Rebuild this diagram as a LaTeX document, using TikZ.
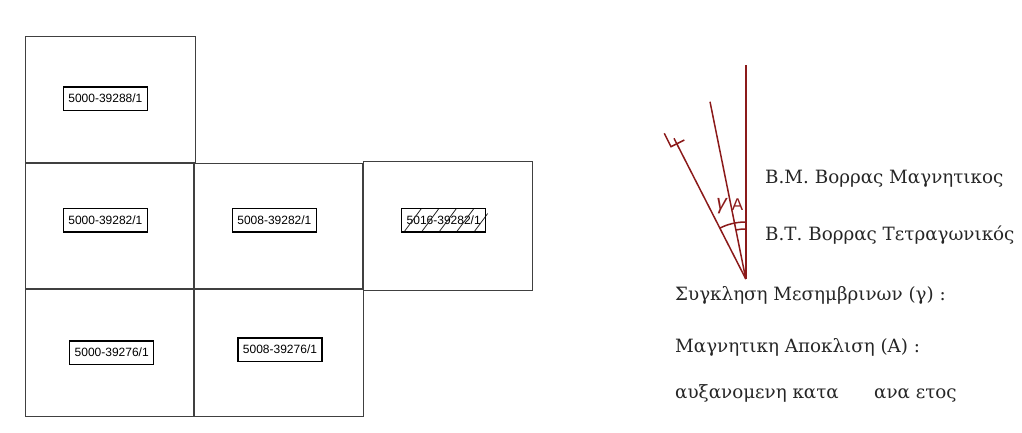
\documentclass[tikz,border=0pt]{standalone}
\usepackage{fontspec}
\setmainfont{DejaVu Serif}
\newfontfamily\labelfont{Liberation Sans}
\definecolor{compassred}{HTML}{8B1A1A}
\begin{document}
\begin{tikzpicture}[x=1pt,y=-1pt,
  cell/.style={draw=black!75,line width=0.95pt,inner sep=0pt,outer sep=0pt,anchor=north west},
  sheet/.style={draw=black,line width=1.5pt,fill=white,inner sep=0pt,outer sep=0pt,minimum width=84pt,minimum height=23.5pt,font=\labelfont\fontsize{12pt}{14pt}\selectfont},
  legend/.style={anchor=base west,inner sep=0pt,text=black!85,font=\fontsize{18.3pt}{20pt}\selectfont},
  north line/.style={draw=compassred,line width=2.1pt},
  thin north/.style={draw=compassred,line width=1.5pt}]
\useasboundingbox (0,0) rectangle (1022,432);
% map grid
\node[cell,minimum width=170pt,minimum height=126pt] (c1) at (25,36) {};
\node[cell,minimum width=168.5pt,minimum height=125.2pt] (c2) at (25,163.3) {};
\node[cell,minimum width=167.8pt,minimum height=125.2pt] (c3) at (194.7,163.3) {};
\node[cell,minimum width=169pt,minimum height=128.5pt] (c4) at (363.3,161.7) {};
\node[cell,minimum width=168.5pt,minimum height=126.2pt] (c5) at (25,289.9) {};
\node[cell,minimum width=168.3pt,minimum height=127pt] (c6) at (194.7,289.2) {};
% sheet labels
\node[sheet] (s1) at (105.4,98.5) {5000-39288/1};
\node[sheet] (s2) at (105.4,220) {5000-39282/1};
\node[sheet] (s3) at (274.4,220) {5008-39282/1};
\node[sheet,fill=none] (s4) at (443.7,220) {5016-39282/1};
\begin{scope}
\clip (s4.south west) rectangle ([xshift=2pt]s4.north east);
\foreach \b in {404,421.5,439,456.5,474}
  \draw[line width=0.8pt,black!85] (\b,232) -- (\b+20,205);
\end{scope}
\draw[line width=1.5pt] (s4.south west) rectangle (s4.north east);
\node[sheet] (s5) at (111.7,352.5) {5000-39276/1};
\node[sheet] (s6) at (280,349.5) {5008-39276/1};
% compass
\coordinate (apex) at (745.8,279);
\coordinate (mag) at (745.8,65);
\coordinate (grid) at (710,101.7);
\coordinate (star) at (674,138.3);
\coordinate (t1) at (664.3,133.3);
\coordinate (t2) at (671,146.7);
\coordinate (t3) at (684.3,140);
\draw[north line] (apex) -- (mag);
\draw[thin north] (apex) -- (grid);
\draw[thin north] (apex) -- (star);
\draw[thin north] (t1) -- (t2) -- (t3);
\draw[thin north] (745.5,222) arc[start angle=90,end angle=117,radius=57pt];
\draw[thin north] (745.5,229) arc[start angle=90,end angle=101.3,radius=50pt];
\node[inner sep=0pt,text=compassred,font=\labelfont\itshape\fontsize{21pt}{22pt}\selectfont] (gam) at (721.5,206) {γ};
\node[inner sep=0pt,text=compassred,font=\labelfont\fontsize{17pt}{18pt}\selectfont] (ala) at (737.5,205) {A};
% legend
\node[legend] (l1) at (765,183) {Β.Μ. Βορρας Μαγνητικος};
\node[legend] (l2) at (765,240) {Β.Τ. Βορρας Τετραγωνικός};
\node[legend] (l3) at (675,300.7) {Συγκληση Μεσημβρινων (γ) :};
\node[legend] (l4) at (675,352.7) {Μαγνητικη Αποκλιση (Α) :};
\node[legend] (l5) at (675,398) {αυξανομενη κατα};
\node[legend] (l6) at (874,398) {ανα ετος};
\end{tikzpicture}
\end{document}
